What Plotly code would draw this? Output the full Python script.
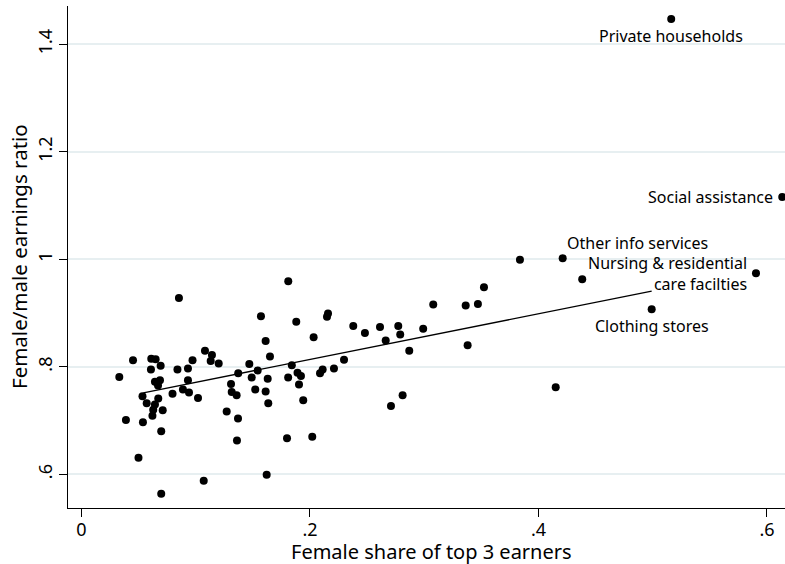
import plotly.graph_objects as go

# industry-level points: female share of top 3 earners vs female/male earnings ratio
share = [0.0331, 0.0451, 0.0611, 0.0649, 0.0693, 0.0608, 0.0840, 0.0932, 0.0972, 0.1081,
         0.1142, 0.1131, 0.1201, 0.0643, 0.0687, 0.0670, 0.0932, 0.0534, 0.0571, 0.0672,
         0.0643, 0.0628, 0.0621, 0.0711, 0.0797, 0.0888, 0.0941, 0.1020, 0.0389, 0.0538,
         0.0698, 0.0499, 0.1070, 0.0698, 0.0853, 0.1810, 0.1571, 0.1880, 0.2158, 0.2149,
         0.1612, 0.2032, 0.1469, 0.1650, 0.1542, 0.1372, 0.1841, 0.1490, 0.1630, 0.1809,
         0.1891, 0.1921, 0.1904, 0.2088, 0.2111, 0.2210, 0.2298, 0.1941, 0.1309, 0.1315,
         0.1358, 0.1521, 0.1612, 0.1635, 0.1271, 0.1370, 0.1361, 0.1799, 0.2020, 0.1621,
         0.2379, 0.2481, 0.2613, 0.2773, 0.2663, 0.2790, 0.2869, 0.2991, 0.2709, 0.2811,
         0.3079, 0.3363, 0.3470, 0.3523, 0.3380, 0.3838, 0.4212, 0.4383, 0.4151, 0.4991,
         0.5904, 0.6134, 0.5162]
ratio = [0.781, 0.812, 0.815, 0.814, 0.802, 0.795, 0.795, 0.797, 0.812, 0.830,
         0.822, 0.811, 0.806, 0.772, 0.775, 0.765, 0.775, 0.745, 0.732, 0.741,
         0.730, 0.720, 0.709, 0.719, 0.750, 0.758, 0.752, 0.742, 0.701, 0.697,
         0.680, 0.631, 0.588, 0.564, 0.928, 0.959, 0.894, 0.884, 0.899, 0.893,
         0.848, 0.855, 0.805, 0.819, 0.793, 0.788, 0.803, 0.780, 0.778, 0.780,
         0.789, 0.783, 0.767, 0.788, 0.795, 0.797, 0.813, 0.738, 0.768, 0.753,
         0.747, 0.758, 0.754, 0.732, 0.717, 0.704, 0.663, 0.667, 0.670, 0.599,
         0.876, 0.863, 0.874, 0.876, 0.849, 0.860, 0.830, 0.871, 0.727, 0.747,
         0.916, 0.914, 0.917, 0.948, 0.840, 0.999, 1.002, 0.963, 0.762, 0.907,
         0.974, 1.116, 1.447]

# linear fit endpoints
fit_x = [0.0541, 0.4991]
fit_y = [0.7516, 0.9407]

# labelled industries
lab_text = ['Private households', 'Social assistance', 'Other info services',
            'Nursing & residential<br>care facilties', 'Clothing stores']
lab_x = [0.5162, 0.6134, 0.4212, 0.5904, 0.4991]
lab_y = [1.447, 1.116, 1.002, 0.974, 0.907]

x_ticks = [0, 0.2, 0.4, 0.6]
x_tick_text = ['0', '.2', '.4', '.6']
y_ticks = [0.6, 0.8, 1.0, 1.2, 1.4]
y_tick_text = ['.6', '.8', '1', '1.2', '1.4']

fig = go.Figure()
fig.add_trace(go.Scatter(x=share, y=ratio, mode='markers', cliponaxis=False,
                         marker=dict(color='black', size=8), showlegend=False))
fig.add_trace(go.Scatter(x=fit_x, y=fit_y, mode='lines',
                         line=dict(color='black', width=1.3), showlegend=False))

# label placement: below, left, upper right, left, below
anchors = [('center', 'top', 0, -4), ('right', 'middle', -7, 0), ('left', 'bottom', 2, 2),
           ('right', 'middle', -7, 0), ('center', 'top', 0, -4)]
for t, lx, ly, (xa, ya, dx, dy) in zip(lab_text, lab_x, lab_y, anchors):
    fig.add_annotation(x=lx, y=ly, text=t, showarrow=False, xanchor=xa, yanchor=ya,
                       xshift=dx, yshift=dy, align='right', font=dict(size=16, color='black'))

# axis titles as annotations so they sit where Stata puts them
fig.add_annotation(xref='paper', yref='paper', x=0.5, y=0, yanchor='middle', yshift=-43, xshift=5,
                   text='Female share of top 3 earners', showarrow=False, font=dict(size=20))
fig.add_annotation(xref='paper', yref='paper', x=0, y=0.5, xanchor='center', xshift=-49,
                   textangle=-90, text='Female/male earnings ratio', showarrow=False,
                   font=dict(size=20.5))

fig.update_layout(
    width=785, height=564,
    margin=dict(l=68, r=0, t=6, b=56),
    plot_bgcolor='white', paper_bgcolor='white',
    font=dict(family='Noto Sans', size=18, color='black'),
)
fig.update_xaxes(range=[-0.0118, 0.6158], tickvals=x_ticks, ticktext=x_tick_text, automargin=False,
                 showgrid=False, zeroline=False, showline=True, linecolor='black', linewidth=1.3,
                 ticks='outside', ticklen=8, tickcolor='black', ticklabelstandoff=-3)
fig.update_yaxes(range=[0.5373, 1.4713], tickvals=y_ticks, ticktext=y_tick_text, tickangle=-90,
                 automargin=False, showgrid=True, gridcolor='#e7eff1', gridwidth=1.5, zeroline=False,
                 showline=True, linecolor='black', linewidth=1.3,
                 ticks='outside', ticklen=8, tickcolor='black')

# drop the default page margin so the 785x564 figure fills the window exactly
fig.write_html("out.html", config={'displayModeBar': False},
               post_script="document.body.style.margin = '0';")
